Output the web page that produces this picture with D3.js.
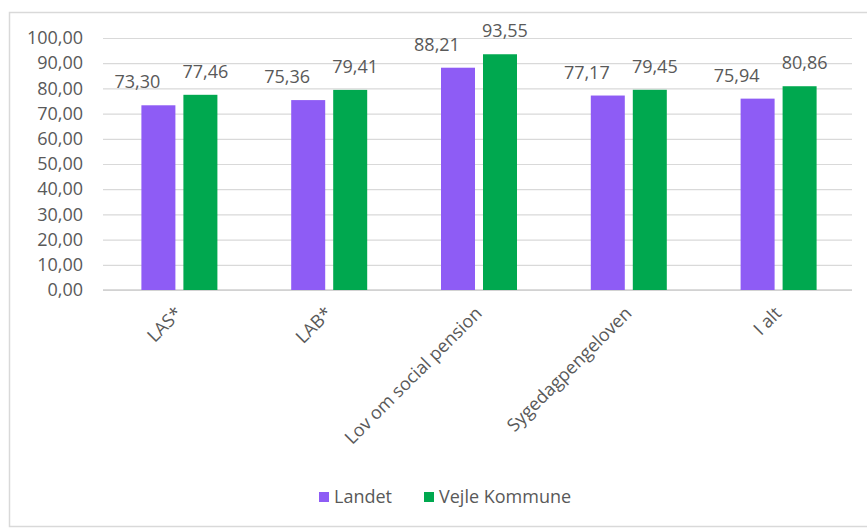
<!DOCTYPE html>
<html>
<head>
<meta charset="utf-8">
<script src="https://cdn.jsdelivr.net/npm/d3@7"></script>
<style>
  html, body { margin: 0; padding: 0; background: #fff; }
  svg { display: block; }
  text { font-family: "Open Sans", sans-serif; fill: #595959; }
</style>
</head>
<body>
<svg id="chart" width="867" height="530"></svg>
<script>
const categories = ["LAS*", "LAB*", "Lov om social pension", "Sygedagpengeloven", "I alt"];
const seriesNames = ["Landet", "Vejle Kommune"];
const landet = [73.30, 75.36, 88.21, 77.17, 75.94];
const vejle = [77.46, 79.41, 93.55, 79.45, 80.86];
const yTicks = [0, 10, 20, 30, 40, 50, 60, 70, 80, 90, 100];
const colors = ["#8E5CF5", "#00A84F"];

const svg = d3.select("#chart");
const margin = { left: 103 };
const plotRight = 852, plotBottom = 290, plotTop = 38;

// outer frame
svg.append("rect").attr("x", 9.5).attr("y", 12.5).attr("width", 866).attr("height", 514)
  .attr("fill", "#fff").attr("stroke", "#d9d9d9").attr("stroke-width", 1.5);

const x = d3.scaleBand().domain(categories).range([margin.left, plotRight]);
const y = d3.scaleLinear().domain([0, 100]).range([plotBottom, plotTop]);
const fmt = v => d3.format(".2f")(v).replace(".", ",");

// gridlines + y labels
const yAxis = d3.axisLeft(y).tickValues(yTicks).tickSize(-(plotRight - margin.left)).tickFormat(fmt).tickPadding(20);
const gy = svg.append("g").attr("transform", `translate(${margin.left},0)`).call(yAxis);
gy.select(".domain").remove();
gy.selectAll(".tick line").attr("stroke", "#d9d9d9").attr("stroke-width", 1.2);
gy.selectAll(".tick text").style("font-size", "18px").attr("fill", "#595959")
  .style("font-family", "'Open Sans', sans-serif");

// x axis line
svg.append("line").attr("x1", margin.left).attr("x2", plotRight)
  .attr("y1", y(0)).attr("y2", y(0)).attr("stroke", "#cfcfcf").attr("stroke-width", 1.5);

const barW = 34, gap = 8;
const series = [landet, vejle];
series.forEach((vals, si) => {
  const off = (si === 0 ? -(gap / 2 + barW) : gap / 2) + 1.5;
  svg.append("g").selectAll("rect").data(vals).join("rect")
    .attr("x", (d, i) => x(categories[i]) + x.bandwidth() / 2 + off)
    .attr("y", d => y(d))
    .attr("width", barW)
    .attr("height", d => y(0) - y(d))
    .attr("fill", colors[si]);
  const labelShift = si === 0 ? -21 : 5;
  svg.append("g").selectAll("text").data(vals).join("text")
    .attr("x", (d, i) => x(categories[i]) + x.bandwidth() / 2 + off + barW / 2 + labelShift)
    .attr("y", d => y(d) - 17)
    .attr("text-anchor", "middle")
    .style("font-size", "18px")
    .text(d => fmt(d));
});

// x labels rotated
svg.append("g").selectAll("text").data(categories).join("text")
  .attr("transform", d => `translate(${x(d) + x.bandwidth() / 2 + 1},${plotBottom + 20}) rotate(-45)`)
  .attr("text-anchor", "end")
  .attr("dy", "0.35em")
  .style("font-size", "18px")
  .text(d => d);

// legend
const legend = svg.append("g");
const legendItems = [{ name: seriesNames[0], x: 319 }, { name: seriesNames[1], x: 424 }];
legendItems.forEach((it, i) => {
  legend.append("rect").attr("x", it.x).attr("y", 492).attr("width", 10).attr("height", 10).attr("fill", colors[i]);
  legend.append("text").attr("x", it.x + 15).attr("y", 497).attr("dy", "0.35em")
    .style("font-size", "18px").text(it.name);
});
</script>
</body>
</html>
